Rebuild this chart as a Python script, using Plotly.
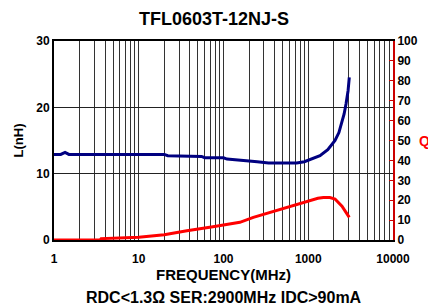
import plotly.graph_objects as go

# Inductance data
freq_L = [1, 1.2, 1.35, 1.5, 2, 5, 10, 20, 22, 40, 55, 60, 100, 110, 180, 250, 340, 500, 730, 900,
          1050, 1200, 1375, 1700, 2070, 2300, 2480, 2650, 2790, 2950, 3050]
L_nH = [12.9, 12.9, 13.2, 12.9, 12.9, 12.9, 12.9, 12.9, 12.7, 12.7, 12.6, 12.4, 12.4, 12.2, 12.0, 11.8,
        11.6, 11.6, 11.6, 11.8, 12.1, 12.4, 12.7, 13.6, 15.0, 16.2, 17.5, 19.0, 20.5, 22.5, 24.5]

# Q data
freq_Q = [1, 3.5, 3.6, 8, 10, 20, 37, 75, 91, 156, 225, 557, 1050, 1300, 1507, 1800, 2070, 2500, 3050]
Q_val = [0, 0, 0.7, 1.0, 1.4, 2.6, 4.7, 6.7, 7.2, 8.9, 11.4, 16.4, 19.75, 21.0, 21.4, 21.3, 20.6, 17.0, 11.4]

# Axis ticks
x_ticks = [m * 10 ** d for d in range(4) for m in range(1, 10)] + [10000]
x_ticktext = ["<b>%d</b>" % v if v in (1, 10, 100, 1000, 10000) else "" for v in x_ticks]
yL_ticks = [0, 10, 20, 30]
yQ_ticks = list(range(0, 101, 10))

FONT = "Liberation Sans, Arial, sans-serif"

fig = go.Figure()
fig.add_trace(go.Scatter(x=freq_L, y=L_nH, mode="lines",
                         line=dict(color="#000080", width=3), yaxis="y"))
fig.add_trace(go.Scatter(x=freq_Q, y=Q_val, mode="lines",
                         line=dict(color="#ff0000", width=3), yaxis="y2"))

fig.update_layout(
    width=428, height=306,
    margin=dict(l=54, r=35, t=41, b=66, autoexpand=False),
    paper_bgcolor="white", plot_bgcolor="white",
    showlegend=False,
    font=dict(family=FONT, color="black", size=12),
    title=dict(text="<b>TFL0603T-12NJ-S</b>", x=0.5, xanchor="center", y=0.94, yanchor="middle",
               font=dict(size=18, family=FONT, color="black")),
    xaxis=dict(type="log", range=[0, 4], tickvals=x_ticks, ticktext=x_ticktext,
               showgrid=True, gridcolor="#333", gridwidth=1,
               showline=True, linecolor="black", linewidth=2, mirror=True,
               ticks="", zeroline=False, ticklabelstandoff=7,
               tickfont=dict(size=12, family=FONT),
               title=dict(text="<b>FREQUENCY(MHz)</b>", font=dict(size=15, family=FONT), standoff=4)),
    yaxis=dict(range=[0, 30], tickvals=yL_ticks, ticktext=["<b>%d</b>" % v for v in yL_ticks],
               showgrid=True, gridcolor="#222", gridwidth=1,
               showline=True, linecolor="black", linewidth=2,
               ticks="", zeroline=False, tickfont=dict(size=12, family=FONT),
               title=dict(text="<b>L(nH)</b>", font=dict(size=13, family=FONT), standoff=10)),
    yaxis2=dict(range=[0, 100], tickvals=yQ_ticks, ticktext=["<b>%d</b>" % v for v in yQ_ticks],
                overlaying="y", side="right", showgrid=False, zeroline=False,
                showline=True, linecolor="#cc0000", linewidth=2,
                ticks="inside", ticklen=4, tickcolor="#cc0000", tickwidth=1,
                tickfont=dict(size=12, family=FONT, color="black")),
)

fig.add_annotation(text="<b>RDC<1.3Ω SER:2900MHz IDC>90mA</b>", xref="paper", yref="paper",
                   x=0.5, y=-0.29, xanchor="center", yanchor="middle", showarrow=False,
                   font=dict(size=16, family=FONT, color="black"))
fig.add_annotation(text="<b>Q</b>", xref="paper", yref="paper",
                   x=1.0, xshift=24, y=0.5, xanchor="left", yanchor="middle", showarrow=False,
                   font=dict(size=14, family=FONT, color="red"))

fig.write_html("out.html", config={"displayModeBar": False},
               post_script="document.body.style.margin='0';document.body.style.overflow='hidden';")
